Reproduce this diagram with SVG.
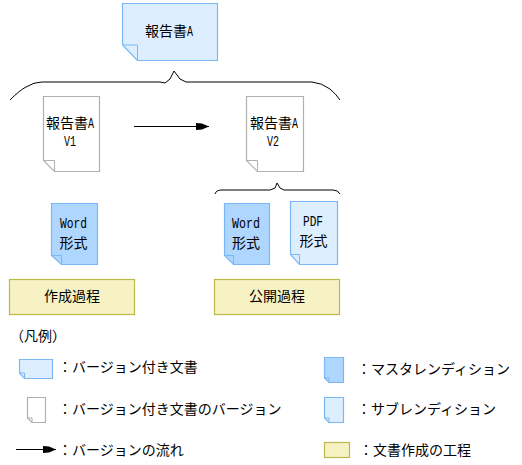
<svg xmlns="http://www.w3.org/2000/svg" width="522" height="465" viewBox="0 0 522 465">
<style>
text{font-family:"Noto Sans CJK JP","Liberation Sans",sans-serif;font-size:14px;fill:#000}
.c{text-anchor:middle}
text.l{font-family:"Liberation Mono",monospace;font-size:15px}
.doc{stroke-width:1.2}
.blue{fill:#ddeeff;stroke:#7ab8f5}
.master{fill:#aed6ff;stroke:#7ab8f5}
.grey{fill:#fff;stroke:#b0b0b0}
.proc{fill:#f6f2c4;stroke:#bdb84a;stroke-width:1.2}
.fold{fill:none}
.brace{fill:none;stroke:#000;stroke-width:1}
.flow{fill:none;stroke:#000;stroke-width:1;marker-end:url(#ah)}
</style>
<defs>
<marker id="ah" markerUnits="userSpaceOnUse" markerWidth="14" markerHeight="10" refX="13" refY="5" orient="auto"><path d="M0 1.500L6 2L13 5L6 8L0 8.500Z" fill="#000"/></marker>
</defs>
<rect width="522" height="465" fill="#fff"/>
<g id="connectors">
<path class="brace" d="M10 100Q20 90 26 87Q34 82 42 82H160L165 83L170 79L174 71L180 79L186 82H312Q322 83 330 89Q336 94 340 100"/>
<path class="brace" d="M215 194Q216 190 222 190H270L275 188L277 183L280 188L284 190H333Q338 190 340 194"/>
<path class="flow" d="M134 126.500H209"/>
<path class="flow" d="M16 449.500H56"/>
</g>
<g id="report-a">
<path class="doc blue" d="M122.500 3.500H217.500V60.500H137.500L122.500 45Z"/><path class="fold blue" d="M122.500 45H137.500V60.500"/>
<text x="145" y="36">報告書</text><text class="l" x="187" y="36" textLength="6" lengthAdjust="spacingAndGlyphs">A</text>
</g>
<g id="v1">
<path class="doc grey" d="M43.500 96.500H99.500V171.500H54.500L43.500 160.500Z"/><path class="fold grey" d="M43.500 160.500H54.500V171.500"/>
<text x="46" y="128">報告書</text><text class="l" x="88" y="128" textLength="6" lengthAdjust="spacingAndGlyphs">A</text>
<text class="l" x="64" y="146" textLength="12" lengthAdjust="spacingAndGlyphs">V1</text>
</g>
<g id="v2">
<path class="doc grey" d="M246.500 96.500H303.500V171.500H257.500L246.500 160.500Z"/><path class="fold grey" d="M246.500 160.500H257.500V171.500"/>
<text x="250" y="128">報告書</text><text class="l" x="292" y="128" textLength="6" lengthAdjust="spacingAndGlyphs">A</text>
<text class="l" x="267" y="146" textLength="12" lengthAdjust="spacingAndGlyphs">V2</text>
</g>
<g id="word1">
<path class="doc master" d="M51.500 203.500H97.500V264.500H61.500L51.500 255.500Z"/><path class="fold master" d="M51.500 255.500H61.500V264.500"/>
<text class="l" x="60" y="228" textLength="27" lengthAdjust="spacingAndGlyphs">Word</text>
<text class="c" x="73.500" y="248">形式</text>
</g>
<g id="word2">
<path class="doc master" d="M224.500 203.500H269.500V264.500H233.500L224.500 255.500Z"/><path class="fold master" d="M224.500 255.500H233.500V264.500"/>
<text class="l" x="232" y="228" textLength="28" lengthAdjust="spacingAndGlyphs">Word</text>
<text class="c" x="246" y="248">形式</text>
</g>
<g id="pdf">
<path class="doc blue" d="M290.500 201.500H337.500V264.500H299.500L290.500 254.500Z"/><path class="fold blue" d="M290.500 254.500H299.500V264.500"/>
<text class="l" x="303" y="226" textLength="20" lengthAdjust="spacingAndGlyphs">PDF</text>
<text class="c" x="313.500" y="246">形式</text>
</g>
<g id="proc1">
<rect class="proc" x="9.500" y="279.500" width="125" height="35"/>
<text class="c" x="72" y="301">作成過程</text>
</g>
<g id="proc2">
<rect class="proc" x="214.500" y="279.500" width="125" height="35"/>
<text class="c" x="277" y="301">公開過程</text>
</g>
<g id="legend-title"><text x="10" y="341">（凡例）</text></g>
<g id="legend-doc">
<path class="doc blue" d="M19.500 359.500H52.500V378.500H24.500L19.500 373Z"/><path class="fold blue" d="M19.500 373H24.500V378.500"/>
<text x="58" y="372">：バージョン付き文書</text>
</g>
<g id="legend-version">
<path class="doc grey" d="M27.500 397.500H45.500V422.500H32L27.500 418Z"/><path class="fold grey" d="M27.500 418H32V422.500"/>
<text x="58" y="414">：バージョン付き文書のバージョン</text>
</g>
<g id="legend-flow"><text x="58" y="455">：バージョンの流れ</text></g>
<g id="legend-master">
<path class="doc master" d="M324.500 357.500H343.500V382.500H329L324.500 378Z"/><path class="fold master" d="M324.500 378H329V382.500"/>
<text x="357" y="374">：マスタレンディション</text>
</g>
<g id="legend-sub">
<path class="doc blue" d="M324.500 397.500H343.500V422.500H329L324.500 418Z"/><path class="fold blue" d="M324.500 418H329V422.500"/>
<text x="357" y="414">：サブレンディション</text>
</g>
<g id="legend-proc">
<rect class="proc" x="324.500" y="442.500" width="25" height="15"/>
<text x="359" y="455">：文書作成の工程</text>
</g>
</svg>
